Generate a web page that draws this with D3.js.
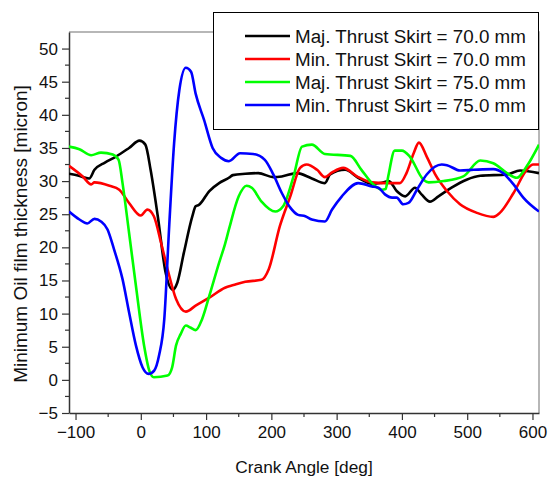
<!DOCTYPE html>
<html>
<head>
<meta charset="utf-8">
<script src="https://cdn.jsdelivr.net/npm/d3@7"></script>
<style>
    html, body { margin: 0; padding: 0; background: #fff; }
    svg { display: block; font-family: Arial, "Liberation Sans", sans-serif; }
</style>
</head>
<body>
<svg id="chart" width="548" height="477"></svg>
<script>
/* Data */
/* **** */
var majThrust70Angle = [-110, -95, -79, -71, -55, -38, -18, -2, 7, 15, 26, 38, 49, 56, 66, 79, 84, 89, 105, 120, 135, 141, 160, 180, 203, 216, 239, 262, 282, 290, 313, 333, 354, 367, 380, 392, 405, 420, 430, 443, 456, 476, 499, 520, 561, 581, 610];
var majThrust70 = [31.1, 30.8, 30.4, 31.7, 32.8, 33.7, 35.0, 36.1, 35.5, 31.7, 24.7, 16.2, 13.6, 14.7, 19.2, 24.7, 26.2, 26.4, 28.5, 29.7, 30.5, 30.9, 31.1, 31.2, 30.6, 30.7, 31.2, 30.4, 29.7, 31.0, 31.7, 30.5, 29.6, 29.7, 30.0, 28.5, 27.7, 29.0, 28.0, 26.9, 27.7, 29.0, 30.2, 30.8, 31.0, 31.6, 31.2];

var minThrust70Angle = [-110, -89, -76, -71, -48, -33, -18, 0, 10, 20, 31, 41, 54, 69, 84, 105, 129, 142, 160, 185, 196, 213, 229, 244, 254, 270, 282, 293, 310, 333, 354, 374, 397, 407, 418, 426, 438, 451, 469, 489, 515, 540, 550, 571, 591, 601, 610];
var minThrust70 = [32.3, 30.7, 29.5, 29.8, 29.3, 28.7, 26.7, 24.8, 25.7, 24.7, 20.7, 16.7, 12.2, 10.3, 11.2, 12.4, 13.9, 14.3, 14.8, 15.1, 16.7, 23.2, 27.7, 32.0, 32.5, 31.7, 30.6, 31.3, 32.0, 30.6, 29.8, 29.7, 29.7, 31.2, 34.2, 35.8, 33.7, 31.0, 28.5, 26.5, 25.2, 24.6, 25.2, 28.2, 31.7, 32.5, 32.5];

var majThrust75Angle = [-110, -94, -76, -61, -43, -34, -28, -18, -7.5, 5, 13, 20, 41, 48, 54, 61, 69, 76, 84, 94, 105, 120, 129, 135, 150, 162, 170, 185, 206, 218, 234, 247, 262, 282, 321, 338, 354, 369, 375, 379, 389, 400, 412, 433, 441, 464, 494, 520, 540, 561, 576, 591, 610];
var majThrust75 = [35.2, 34.8, 33.9, 34.3, 34.0, 33.2, 29.7, 22.2, 14.2, 5.2, 1.4, 0.4, 0.65, 1.9, 5.2, 6.9, 8.2, 7.9, 7.5, 9.2, 12.7, 17.7, 20.5, 22.7, 27.7, 29.3, 29.0, 26.9, 25.4, 26.2, 30.7, 35.2, 35.5, 34.1, 33.8, 31.7, 29.7, 28.7, 28.8, 30.7, 34.6, 34.6, 33.7, 30.2, 29.8, 30.0, 30.7, 33.1, 32.7, 31.2, 30.5, 32.2, 35.5];

var minThrust75Angle = [-110, -94, -82, -71, -61, -51, -41, -28, -18, -7.5, 2.6, 12, 20.5, 28, 36, 43.5, 51, 59, 69, 77, 84, 97, 110, 123, 135, 152, 172, 190, 203, 216, 229, 241, 252, 262, 282, 293, 308, 333, 354, 364, 374, 385, 392, 402, 410, 423, 438, 461, 469, 489, 510, 540, 555, 571, 586, 610];
var minThrust75 = [25.4, 24.2, 23.6, 24.3, 23.9, 22.7, 19.7, 15.2, 10.2, 5.2, 1.9, 0.9, 1.4, 3.7, 9.2, 23.2, 35.7, 43.7, 47.1, 46.5, 43.2, 39.2, 35.0, 33.5, 33.0, 34.2, 34.1, 33.2, 31.0, 28.2, 26.0, 24.9, 24.7, 24.2, 23.9, 25.7, 27.7, 29.7, 29.2, 29.0, 28.0, 27.5, 27.5, 26.5, 26.7, 28.7, 31.0, 32.5, 32.4, 31.6, 31.7, 31.8, 31.2, 29.5, 27.5, 25.4];

var seriesNames = ['Maj. Thrust Skirt = 70.0 mm', 'Min. Thrust Skirt = 70.0 mm', 'Maj. Thrust Skirt = 75.0 mm', 'Min. Thrust Skirt = 75.0 mm'];
var seriesColors = ['#000000', '#ff0000', '#00ff00', '#0000ff'];
var seriesAngles = [majThrust70Angle, minThrust70Angle, majThrust75Angle, minThrust75Angle];
var seriesValues = [majThrust70, minThrust70, majThrust75, minThrust75];

var xTicks = [-100, 0, 100, 200, 300, 400, 500, 600];
var yTicks = [-5, 0, 5, 10, 15, 20, 25, 30, 35, 40, 45, 50];

/* Layout */
/* ****** */
var margin = { left: 69, top: 32, right: 539, bottom: 413 };
var svg = d3.select('#chart');

var x = d3.scaleLinear().domain([-110, 610]).range([margin.left, margin.right]);
var y = d3.scaleLinear().domain([-5, 52.5]).range([margin.bottom, margin.top]);

// Frame: light top / right border
svg.append('path')
    .attr('d', 'M' + margin.left + ',' + margin.top + 'H' + margin.right + 'V' + margin.bottom)
    .attr('fill', 'none')
    .attr('stroke', '#a0a0a0')
    .attr('stroke-width', 1.5);

svg.append('defs').append('clipPath')
    .attr('id', 'plotClip')
    .append('rect')
    .attr('x', margin.left)
    .attr('y', margin.top)
    .attr('width', margin.right - margin.left)
    .attr('height', margin.bottom - margin.top);

// Minor ticks
var xMinor = d3.range(-100, 601, 50).filter(function (d) { return d % 100 !== 0; });
var yMinor = d3.range(-2.5, 52.5, 5);

svg.append('g')
    .selectAll('line')
    .data(xMinor)
    .enter()
    .append('line')
    .attr('x1', function (d) { return x(d); })
    .attr('x2', function (d) { return x(d); })
    .attr('y1', margin.bottom)
    .attr('y2', margin.bottom + 4)
    .attr('stroke', '#333')
    .attr('stroke-width', 1.2);

svg.append('g')
    .selectAll('line')
    .data(yMinor)
    .enter()
    .append('line')
    .attr('x1', margin.left - 4)
    .attr('x2', margin.left)
    .attr('y1', function (d) { return y(d); })
    .attr('y2', function (d) { return y(d); })
    .attr('stroke', '#333')
    .attr('stroke-width', 1.2);

// Axes
var xAxis = svg.append('g')
    .attr('transform', 'translate(0,' + margin.bottom + ')')
    .call(d3.axisBottom(x).tickValues(xTicks).tickSize(7).tickPadding(6).tickSizeOuter(0));

var yAxis = svg.append('g')
    .attr('transform', 'translate(' + margin.left + ',0)')
    .call(d3.axisLeft(y).tickValues(yTicks).tickSize(7).tickPadding(4).tickSizeOuter(0));

[xAxis, yAxis].forEach(function (ax) {
    ax.select('.domain').attr('stroke', '#333').attr('stroke-width', 1.5);
    ax.selectAll('.tick line').attr('stroke', '#333').attr('stroke-width', 1.2);
    ax.selectAll('.tick text')
        .attr('fill', '#111')
        .style('font-size', '17px')
        .style('font-family', 'Arial, "Liberation Sans", sans-serif');
});

// Axis titles
svg.append('text')
    .attr('x', (margin.left + margin.right) / 2)
    .attr('y', 473)
    .attr('text-anchor', 'middle')
    .attr('fill', '#111')
    .style('font-size', '17.3px')
    .text('Crank Angle [deg]');

svg.append('text')
    .attr('transform', 'translate(27,234) rotate(-90)')
    .attr('text-anchor', 'middle')
    .attr('fill', '#111')
    .style('font-size', '19px')
    .text('Minimum Oil film thickness [micron]');

// Lines
var line = d3.line()
    .x(function (d) { return x(d[0]); })
    .y(function (d) { return y(d[1]); })
    .curve(d3.curveMonotoneX);

var linesGroup = svg.append('g')
    .attr('clip-path', 'url(#plotClip)');

seriesNames.forEach(function (name, i) {
    var pts = d3.zip(seriesAngles[i], seriesValues[i]);
    linesGroup.append('path')
        .datum(pts)
        .attr('d', line)
        .attr('fill', 'none')
        .attr('stroke', seriesColors[i])
        .attr('stroke-width', 2.6)
        .attr('stroke-linejoin', 'round');
});

// Legend
var legend = svg.append('g');
legend.append('rect')
    .attr('x', 213.5)
    .attr('y', 12.5)
    .attr('width', 325)
    .attr('height', 117)
    .attr('fill', '#fff')
    .attr('stroke', '#000')
    .attr('stroke-width', 1);

seriesNames.forEach(function (name, i) {
    var rowY = 36 + i * 23;
    legend.append('line')
        .attr('x1', 245)
        .attr('x2', 290)
        .attr('y1', rowY)
        .attr('y2', rowY)
        .attr('stroke', seriesColors[i])
        .attr('stroke-width', 2.6);
    legend.append('text')
        .attr('x', 295)
        .attr('y', rowY + 6.5)
        .attr('fill', '#111')
        .style('font-size', '18.8px')
        .text(name);
});
</script>
</body>
</html>
